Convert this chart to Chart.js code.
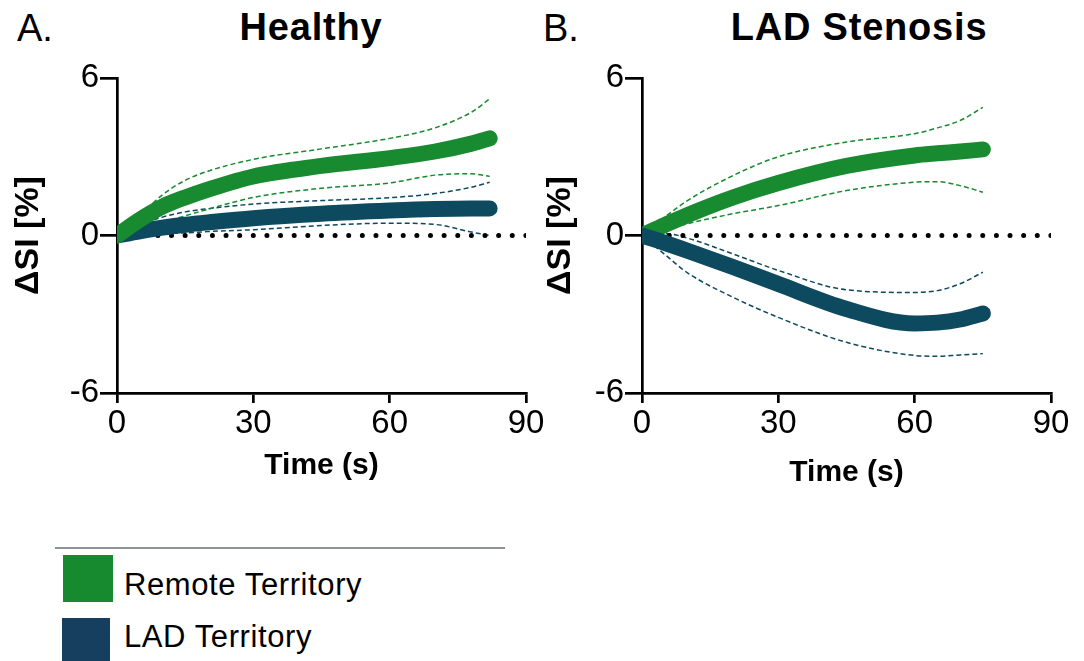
<!DOCTYPE html>
<html>
<head>
<meta charset="utf-8">
<script src="https://cdn.jsdelivr.net/npm/chart.js@4.4.0/dist/chart.umd.min.js"></script>
<style>
    body {
        margin: 0;
        width: 1084px;
        height: 661px;
        overflow: hidden;
        background: #ffffff;
        font-family: "Liberation Sans", Arial, sans-serif;
        position: relative;
    }
    canvas, .label, .swatch, .rule {
        position: absolute;
    }
    .label {
        color: #000000;
        white-space: nowrap;
        line-height: 1;
    }
    .panel-letter {
        font-size: 38px;
    }
    .panel-title {
        font-size: 38px;
        font-weight: 700;
        letter-spacing: 0.8px;
        transform: translateX(-50%);
    }
    .legend-text {
        font-size: 31px;
        letter-spacing: 0.6px;
    }
</style>
</head>
<body>
<div class="label panel-letter" style="left:17px; top:9px;">A.</div>
<div class="label panel-title" style="left:311px; top:8px;">Healthy</div>
<div class="label panel-letter" style="left:543px; top:9px;">B.</div>
<div class="label panel-title" style="left:859px; top:8px;">LAD Stenosis</div>

<canvas id="healthyChart" width="560" height="510" style="left:0; top:0;"></canvas>
<canvas id="stenosisChart" width="554" height="510" style="left:530px; top:0;"></canvas>

<div class="rule" style="left:55px; top:547px; width:450px; height:2px; background:#8d9297;"></div>
<div class="swatch" style="left:63px; top:555px; width:50px; height:47px; background:#178a2f;"></div>
<div class="label legend-text" style="left:124px; top:569px;">Remote Territory</div>
<div class="swatch" style="left:62px; top:618px; width:48px; height:43px; background:#163f5f;"></div>
<div class="label legend-text" style="left:124px; top:621px;">LAD Territory</div>

<script>
const GREEN = "#188a30";
const TEAL = "#0e4a5f";

// Panel A - Healthy
const healthyTime = [0, 5, 10, 15, 20, 30, 45, 60, 70, 78, 82];
const healthyRemote = [0, 0.6, 1.1, 1.45, 1.75, 2.25, 2.65, 2.95, 3.2, 3.5, 3.7];
const healthyRemoteUpper = [0, 0.75, 1.55, 2.1, 2.45, 2.9, 3.3, 3.7, 4.1, 4.7, 5.2];
const healthyRemoteLower = [0, 0.25, 0.5, 0.75, 1.0, 1.45, 1.8, 2.0, 2.3, 2.35, 2.25];
const healthyLad = [0, 0.16, 0.3, 0.41, 0.5, 0.66, 0.83, 0.95, 1.01, 1.03, 1.03];
const healthyLadUpper = [0, 0.4, 0.7, 0.9, 1.02, 1.2, 1.33, 1.44, 1.6, 1.84, 2.03];
const healthyLadLower = [0, 0.03, 0.07, 0.1, 0.15, 0.22, 0.38, 0.47, 0.42, 0.13, 0.0];

// Panel B - LAD stenosis
const stenosisTime = [0, 5, 10, 20, 30, 45, 60, 65, 70, 75];
const stenosisRemote = [0, 0.4, 0.78, 1.45, 2.0, 2.65, 3.05, 3.13, 3.2, 3.28];
const stenosisRemoteUpper = [0, 0.7, 1.33, 2.28, 3.0, 3.56, 3.88, 4.1, 4.38, 4.88];
const stenosisRemoteLower = [0, 0.22, 0.45, 0.83, 1.14, 1.71, 2.03, 2.05, 1.9, 1.65];
const stenosisLad = [0, -0.28, -0.58, -1.2, -1.85, -2.8, -3.35, -3.32, -3.2, -2.97];
const stenosisLadUpper = [0, 0.08, -0.1, -0.7, -1.33, -2.07, -2.17, -2.1, -1.84, -1.4];
const stenosisLadLower = [0, -0.72, -1.42, -2.35, -3.12, -4.07, -4.57, -4.6, -4.55, -4.5];

// Axes
const xTicks = [0, 30, 60, 90];
const yTicks = [-6, 0, 6];
const baselineTime = [0, 90];
const baseline = [0, 0];

const fontFamily = "'Liberation Sans', Arial, sans-serif";

document.addEventListener("DOMContentLoaded", () => {
    drawPanel("healthyChart", {
        time: healthyTime,
        remote: [healthyRemote, healthyRemoteUpper, healthyRemoteLower],
        lad: [healthyLad, healthyLadUpper, healthyLadLower],
        greenOnTop: true,
        axisWidth: 117,
        rightPad: 34,
        xTitlePad: 26,
        yTitlePad: 8
    });
    drawPanel("stenosisChart", {
        time: stenosisTime,
        remote: [stenosisRemote, stenosisRemoteUpper, stenosisRemoteLower],
        lad: [stenosisLad, stenosisLadUpper, stenosisLadLower],
        greenOnTop: false,
        axisWidth: 112,
        rightPad: 33,
        xTitlePad: 19,
        yTitlePad: 10
    });
});

function toPoints(time, values) {
    return values.map((v, i) => ({ x: time[i], y: v }));
}

function meanLine(time, values, color, order) {
    return {
        data: toPoints(time, values),
        borderColor: color,
        borderWidth: 16,
        borderCapStyle: "round",
        borderJoinStyle: "round",
        cubicInterpolationMode: "monotone",
        pointRadius: 0,
        order
    };
}

function bandLine(time, values, color) {
    return {
        data: toPoints(time, values),
        borderColor: color,
        borderWidth: 1.5,
        borderDash: [5, 3],
        cubicInterpolationMode: "monotone",
        pointRadius: 0,
        order: 5
    };
}

function drawPanel(canvasId, cfg) {
    const canvas = document.getElementById(canvasId);
    const t = cfg.time;

    const datasets = [
        meanLine(t, cfg.remote[0], GREEN, cfg.greenOnTop ? 1 : 2),
        meanLine(t, cfg.lad[0], TEAL, cfg.greenOnTop ? 2 : 1),
        {
            data: toPoints(baselineTime, baseline),
            borderColor: "#000000",
            borderWidth: 5,
            borderDash: [0, 13.63],
            borderCapStyle: "round",
            pointRadius: 0,
            order: 3
        },
        bandLine(t, cfg.remote[1], GREEN),
        bandLine(t, cfg.remote[2], GREEN),
        bandLine(t, cfg.lad[1], TEAL),
        bandLine(t, cfg.lad[2], TEAL)
    ];

    new Chart(canvas, {
        type: "line",
        data: { datasets },
        options: {
            responsive: false,
            animation: false,
            layout: {
                padding: { top: 78, right: cfg.rightPad, bottom: 0, left: 0 }
            },
            plugins: {
                legend: { display: false },
                tooltip: { enabled: false }
            },
            scales: {
                x: {
                    type: "linear",
                    min: 0,
                    max: 90,
                    afterFit: (scale) => { scale.height = 117; },
                    afterBuildTicks: (scale) => {
                        scale.ticks = xTicks.map((v) => ({ value: v }));
                    },
                    border: { display: true, color: "#000000", width: 2.7 },
                    grid: {
                        drawOnChartArea: false,
                        drawTicks: true,
                        tickLength: 10,
                        color: "#000000",
                        lineWidth: 2.7
                    },
                    ticks: { color: "#000000", font: { family: fontFamily, size: 33 }, padding: 1, maxRotation: 0 },
                    title: {
                        display: true,
                        text: "Time (s)",
                        color: "#000000",
                        font: { family: fontFamily, size: 30, weight: "bold" },
                        padding: { top: 0, bottom: cfg.xTitlePad }
                    }
                },
                y: {
                    type: "linear",
                    min: -6,
                    max: 6,
                    afterFit: (scale) => { scale.width = cfg.axisWidth; },
                    afterBuildTicks: (scale) => {
                        scale.ticks = yTicks.map((v) => ({ value: v }));
                    },
                    border: { display: true, color: "#000000", width: 2.7 },
                    grid: {
                        drawOnChartArea: false,
                        drawTicks: true,
                        tickLength: 17,
                        color: "#000000",
                        lineWidth: 2.7
                    },
                    ticks: { color: "#000000", font: { family: fontFamily, size: 33 }, padding: 1 },
                    title: {
                        display: true,
                        text: "ΔSI [%]",
                        color: "#000000",
                        font: { family: fontFamily, size: 34, weight: "bold" },
                        padding: { top: cfg.yTitlePad, bottom: 0 }
                    }
                }
            }
        }
    });
}
</script>
</body>
</html>
